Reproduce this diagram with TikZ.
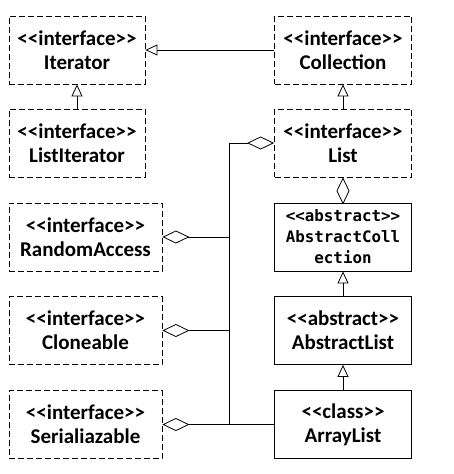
\documentclass[tikz,border=0pt]{standalone}
\usepackage{fontspec}
\newfontfamily\umlfont{Carlito}
\newfontfamily\monofont{DejaVu Sans Mono}
\usetikzlibrary{positioning,arrows.meta}
\tikzset{
  box/.style={draw, line width=0.8pt, minimum height=68pt, align=center,
    inner sep=0pt, font=\fontsize{21}{24}\selectfont\umlfont\bfseries},
  iface/.style={box, dashed, dash pattern=on 6pt off 3pt},
  gen/.style={-{Triangle[open, length=12pt, width=11pt]}, line width=0.8pt},
  agg/.style={-{Diamond[open, length=27pt, width=13pt]}, line width=0.8pt},
}

\begin{document}
\begin{tikzpicture}[x=1pt, y=-1pt]
\useasboundingbox (0,0) rectangle (453,474);
% left column
\node[iface, minimum width=136pt] (iter) at (77,50) {<<interface>>\\Iterator};
\node[iface, minimum width=136pt] (listiter) at (77,143) {<<interface>>\\ListIterator};
\node[iface, minimum width=153pt] (randacc) at (85.5,237) {<<interface>>\\RandomAccess};
\node[iface, minimum width=153pt] (clone) at (85.5,330.5) {<<interface>>\\Cloneable};
\node[iface, minimum width=153pt] (serial) at (85.5,424.5) {<<interface>>\\Serialiazable};
% right column
\node[iface, minimum width=137pt] (coll) at (343,50) {<<interface>>\\Collection};
\node[iface, minimum width=137pt] (list) at (343,143) {<<interface>>\\List};
\node[box, minimum width=137pt, font=\fontsize{15.8}{21}\selectfont\monofont\bfseries] (abscoll) at (343,237) {<<abstract>>\\AbstractColl\\ection};
\node[box, minimum width=137pt] (abslist) at (343,330.5) {<<abstract>>\\AbstractList};
\node[box, minimum width=137pt] (arrlist) at (343,424.5) {<<class>>\\ArrayList};
\coordinate (bus) at (229,143);
% inheritance
\draw[gen] (coll) -- (iter);
\draw[gen] (listiter) -- (iter);
\draw[gen] (list) -- (coll);
\draw[gen] (abslist) -- (abscoll);
\draw[gen] (arrlist) -- (abslist);
% aggregation
\draw[agg] (abscoll) -- (list);
\draw[agg] (arrlist.west) -| (bus) -- (list.west);
\draw[agg] (bus |- randacc) -- (randacc.east);
\draw[agg] (bus |- clone) -- (clone.east);
\draw[agg] (bus |- serial) -- (serial.east);
\end{tikzpicture}
\end{document}
